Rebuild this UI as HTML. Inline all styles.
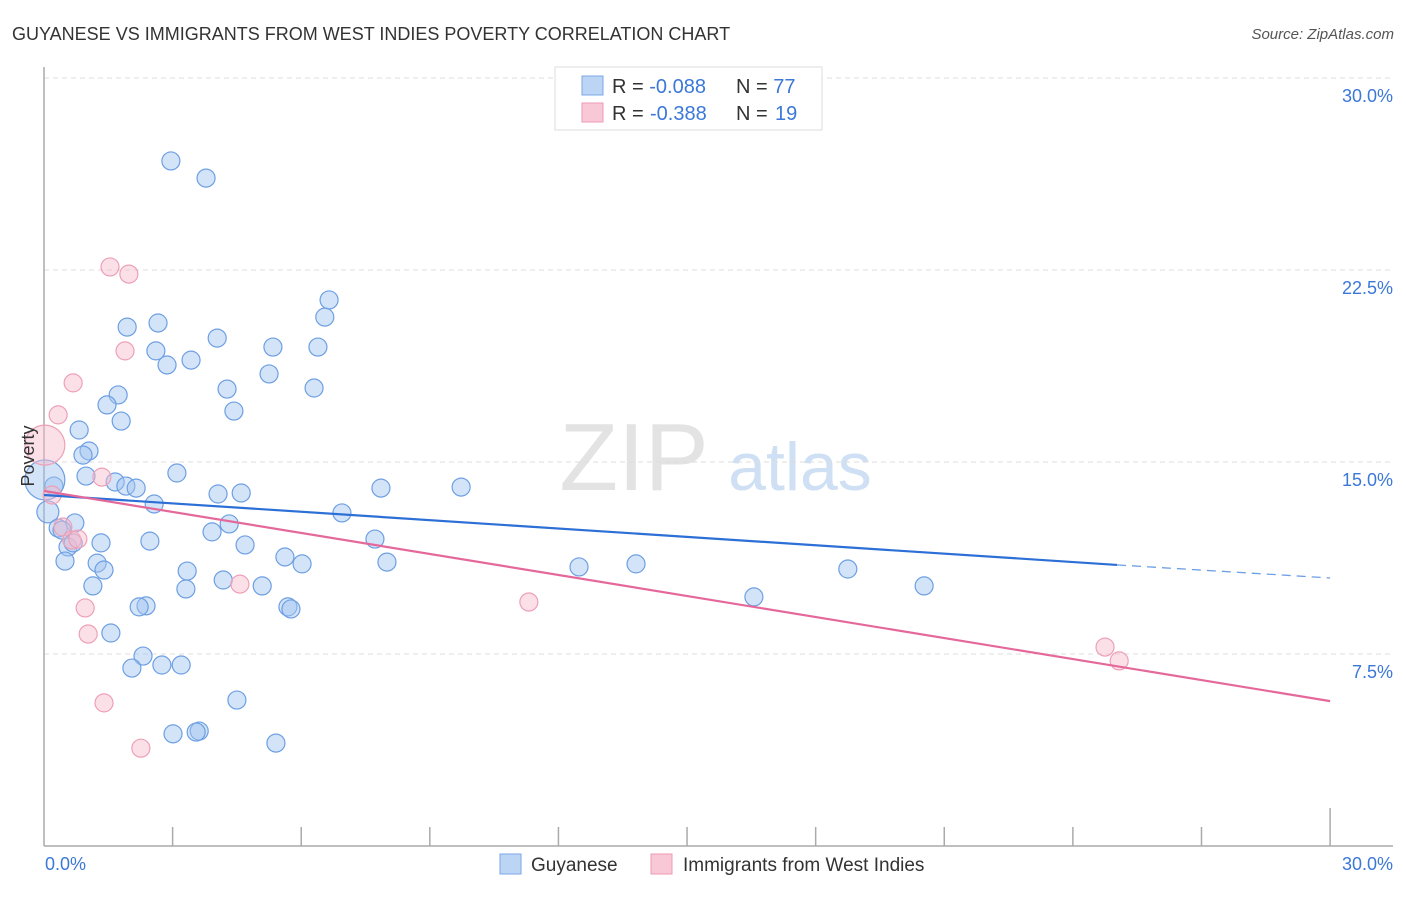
<!DOCTYPE html>
<html><head><meta charset="utf-8"><style>
body{margin:0;background:#fff;font-family:"Liberation Sans",sans-serif;}
svg text{font-family:"Liberation Sans",sans-serif;}
</style></head><body>
<svg id="c" width="1406" height="892" xmlns="http://www.w3.org/2000/svg">
<text x="12" y="40" font-size="18" fill="#333">GUYANESE VS IMMIGRANTS FROM WEST INDIES POVERTY CORRELATION CHART</text>
<text x="1394" y="39" font-size="15" fill="#555" font-style="italic" text-anchor="end">Source: ZipAtlas.com</text>
<text x="634" y="490" font-size="96" fill="#e3e3e3" font-family="Liberation Serif,serif" text-anchor="middle">ZIP</text>
<text x="800" y="490" font-size="68" fill="#cfe0f5" text-anchor="middle">atlas</text>
<g id="grid"></g>
<g id="axes"></g>
<g id="pts"></g>
<g id="lines"></g>
<text transform="translate(34,456) rotate(-90)" font-size="18" fill="#333" text-anchor="middle">Poverty</text>
<g>
<rect x="555" y="67" width="267" height="63" fill="#fff" stroke="#ddd"/>
<rect x="582" y="76" width="21" height="19" fill="#bcd5f5" stroke="#7aa8e6"/>
<rect x="582" y="103" width="21" height="19" fill="#f9c8d6" stroke="#ec9ab3"/>
<text x="612" y="93" font-size="20" fill="#333">R = <tspan fill="#3b78d8">-0.088</tspan><tspan x="736">N = </tspan><tspan fill="#3b78d8">77</tspan></text>
<text x="612" y="120" font-size="20" fill="#333">R = <tspan fill="#3b78d8" x="650">-0.388</tspan><tspan x="736">N = </tspan><tspan fill="#3b78d8" x="775">19</tspan></text>
</g>
<g>
<rect x="500" y="854" width="21" height="20" fill="#bcd5f5" stroke="#7aa8e6"/>
<text x="531" y="871" font-size="19" fill="#333">Guyanese</text>
<rect x="651" y="854" width="21" height="20" fill="#f9c8d6" stroke="#ec9ab3"/>
<text x="683" y="871" font-size="19" fill="#333">Immigrants from West Indies</text>
</g>
</svg>
<script>
const yTicks=[7.5,15,22.5,30];
const yTickLabels=["7.5%","15.0%","22.5%","30.0%"];
const xTickLabels=["0.0%","30.0%"];
const blueX=[2.96,3.78,6.65,1.94,2.66,6.55,4.04,5.34,6.39,2.61,3.43,2.87,5.25,4.27,6.30,1.73,1.47,4.43,1.80,0.82,1.05,0.91,3.10,0.98,1.66,0.23,0.02,1.91,2.15,4.06,4.60,7.86,9.73,2.57,6.95,0.09,0.72,0.33,4.32,0.42,3.92,7.72,2.47,4.69,0.56,0.68,1.33,5.62,8.00,0.49,1.24,6.02,1.40,3.34,12.48,13.81,18.75,4.18,1.14,3.31,5.09,20.53,16.56,2.38,2.22,5.69,5.76,1.56,2.31,2.05,2.75,3.20,4.50,3.01,3.62,3.55,5.41];
const blueY=[26.76,26.09,21.33,20.27,20.43,20.66,19.84,19.49,19.49,19.34,18.98,18.79,18.44,17.85,17.89,17.62,17.23,16.99,16.60,16.25,15.43,15.27,14.57,14.45,14.22,14.06,14.30,14.06,13.98,13.75,13.79,13.98,14.02,13.36,13.01,13.05,12.62,12.42,12.58,12.34,12.27,11.99,11.91,11.76,11.68,11.84,11.84,11.29,11.09,11.13,11.05,11.02,10.78,10.74,10.90,11.02,10.82,10.39,10.16,10.04,10.16,10.16,9.73,9.38,9.34,9.34,9.26,8.32,7.42,6.95,7.07,7.07,5.70,4.38,4.49,4.45,4.02];
const blueR=blueX.map((v,i)=>i===26?20:(i===35?11:9));
const pinkX=[1.54,1.98,1.89,0.68,0.33,0.02,1.35,0.19,0.44,0.65,0.79,4.57,0.96,11.31,1.03,24.75,25.08,1.40,2.26];
const pinkY=[22.62,22.34,19.34,18.09,16.84,15.66,14.41,13.71,12.46,11.95,11.99,10.23,9.30,9.53,8.28,7.77,7.23,5.59,3.82];
const pinkR=pinkX.map((v,i)=>i===5?20:9);
const blueTrend=[13.71,10.98,10.47];  // at x=0, 25.03, 30
const blueTrendX=[0,25.03,30];
const pinkTrend=[13.87,5.66];
const pinkTrendX=[0,30];
const NS="http://www.w3.org/2000/svg";
const X=v=>44+v*42.87, Y=v=>846-v*25.6;
function mk(tag,attrs,parent){const e=document.createElementNS(NS,tag);for(const k in attrs)e.setAttribute(k,attrs[k]);document.getElementById(parent).appendChild(e);return e;}
yTicks.forEach((t,i)=>{
 const g=mk('line',{x1:44,x2:1393,y1:Y(t),y2:Y(t),stroke:'#ddd','stroke-dasharray':'5,4'},'grid');
 
 
 const l=mk('text',{x:1393,y:Y(t)+24,'font-size':18,fill:'#3b78d8','text-anchor':'end'},'grid');
 l.textContent=yTickLabels[i];
 
 
});
const ax=mk('line',{x1:44,x2:1393,y1:846,y2:846,stroke:'#aaa','stroke-width':1.5},'axes');


const ay=mk('line',{x1:44,x2:44,y1:67,y2:846,stroke:'#aaa','stroke-width':1.5},'axes');


for(let i=1;i<=10;i++){const v=i*3;const t=mk('line',{x1:X(v),x2:X(v),y1:i===10?808:827,y2:846,stroke:'#aaa','stroke-width':1.5},'axes');
 
 }
[[0,'start',45],[30,'end',1393]].forEach((a,i)=>{const t=mk('text',{x:a[2],y:870,'font-size':18,fill:'#3b78d8','text-anchor':a[1]},'axes');t.textContent=xTickLabels[i];
 
 });
blueX.forEach((v,i)=>{const c=mk('circle',{cx:X(v),cy:Y(blueY[i]),r:blueR[i],fill:'rgba(160,196,240,0.45)',stroke:'#6d9fe3','stroke-width':1.2},'pts');
 
 });
pinkX.forEach((v,i)=>{const c=mk('circle',{cx:X(v),cy:Y(pinkY[i]),r:pinkR[i],fill:'rgba(248,186,204,0.45)',stroke:'#eda0b8','stroke-width':1.2},'pts');
 
 });
const b1=mk('line',{x1:X(blueTrendX[0]),y1:Y(blueTrend[0]),x2:X(blueTrendX[1]),y2:Y(blueTrend[1]),stroke:'#2c6fd6','stroke-width':2.2},'lines');


const b2=mk('line',{x1:X(blueTrendX[1]),y1:Y(blueTrend[1]),x2:X(blueTrendX[2]),y2:Y(blueTrend[2]),stroke:'#6d9fe3','stroke-width':1.3,'stroke-dasharray':'9,6'},'lines');


const p1=mk('line',{x1:X(pinkTrendX[0]),y1:Y(pinkTrend[0]),x2:X(pinkTrendX[1]),y2:Y(pinkTrend[1]),stroke:'#e5689a','stroke-width':2.2},'lines');


</script>
</body></html>
